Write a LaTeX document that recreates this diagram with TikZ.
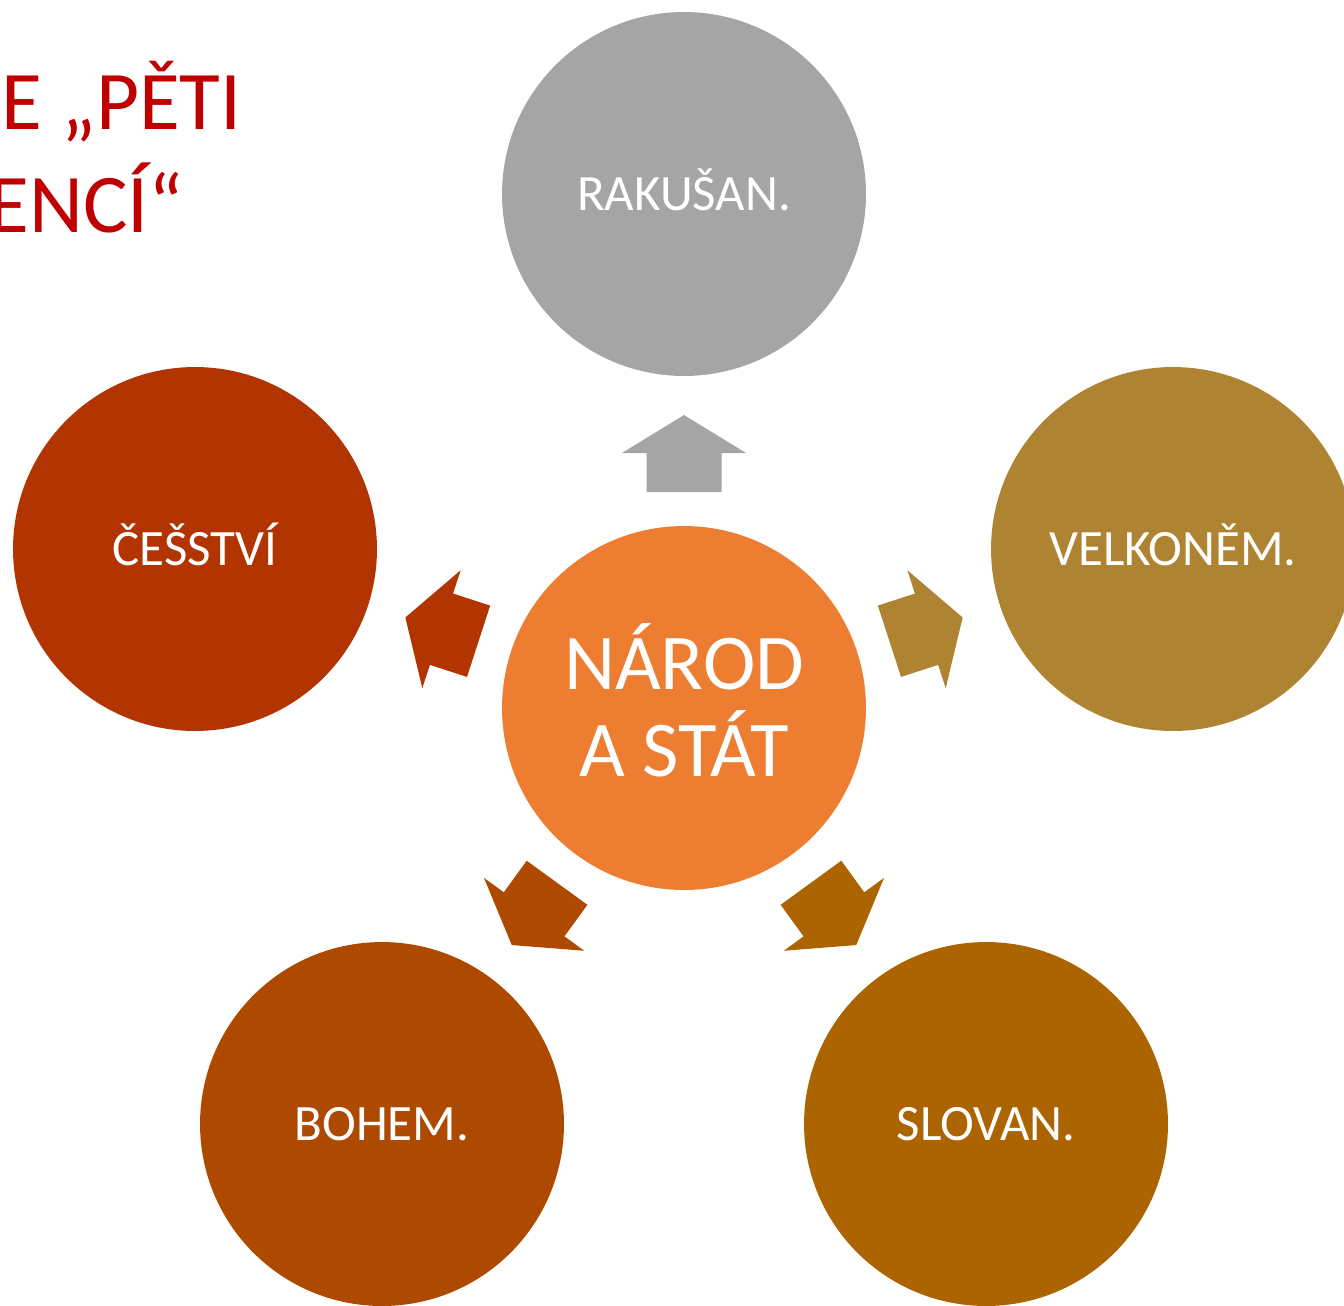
\documentclass[tikz,border=0pt]{standalone}
\usepackage{fontspec}
\setmainfont{Carlito}
\usetikzlibrary{calc}

\definecolor{stred}{HTML}{ED7D31}
\definecolor{sediva}{HTML}{A5A5A5}
\definecolor{zlata}{HTML}{AE8432}
\definecolor{cervena}{HTML}{B23400}
\definecolor{hneda}{HTML}{AE4A00}
\definecolor{okrova}{HTML}{AC6400}
\definecolor{nadpisova}{HTML}{C00000}

\tikzset{
	kruh/.style={circle, minimum size=7.28cm, inner sep=0pt, text=white, text height=18.3pt, text depth=0pt, font=\fontsize{29}{35}\selectfont},
	nadpis/.style={inner sep=0pt, text=nadpisova, font=\fontsize{47.5}{58}\selectfont},
	sipka/.pic={\fill (216,-37.5) -- (255,-37.5) -- (255,-62) -- (293,0) -- (255,62) -- (255,37.5) -- (216,37.5) -- cycle;}
}

\begin{document}
\begin{tikzpicture}[x=0.02cm, y=0.02cm]
		\useasboundingbox (0,0) rectangle (1344,-1305);
		\clip (0,0) rectangle (1344,-1305);
		
		\node[nadpis, anchor=base east] (nad1) at (242,-129) {E „PĚTI};
		\node[nadpis, anchor=base east] (nad2) at (184,-232) {ENCÍ“};
		
		\node[kruh, fill=stred, align=center, text height=78.5pt, font=\fontsize{45}{50}\selectfont] (stat) at (684,-708) {NÁROD\\A STÁT};
		\node[kruh, fill=sediva] (rak) at (684,-194) {RAKUŠAN.};
		\node[kruh, fill=zlata] (velk) at (1173,-549) {VELKONĚM.};
		\node[kruh, fill=cervena] (ces) at (195,-549) {ČEŠSTVÍ};
		\node[kruh, fill=hneda] (boh) at (382,-1124) {BOHEM.};
		\node[kruh, fill=okrova] (slov) at (986,-1124) {SLOVAN.};
		
		\pic[fill=sediva, rotate=90] at (stat) {sipka};
		\pic[fill=zlata, rotate=18] at (stat) {sipka};
		\pic[fill=cervena, rotate=162] at (stat) {sipka};
		\pic[fill=hneda, rotate=234] at (stat) {sipka};
		\pic[fill=okrova, rotate=306] at (stat) {sipka};
	\end{tikzpicture}
\end{document}
